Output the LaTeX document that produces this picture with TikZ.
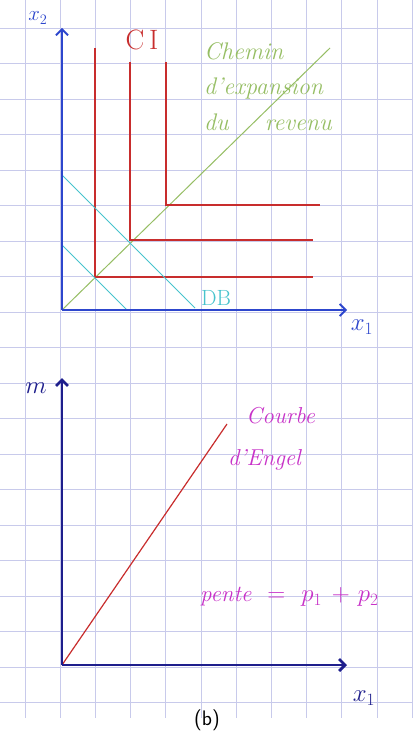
\documentclass[tikz,border=0pt]{standalone}
\usepackage{xcolor}
\usepackage{tikz}
\usetikzlibrary{arrows.meta,positioning,calc}
\definecolor{gridblue}{RGB}{200,202,235}
\definecolor{axisblue}{RGB}{45,70,205}
\definecolor{axisnavy}{RGB}{30,30,140}
\definecolor{ciRed}{RGB}{200,45,45}
\definecolor{pathgreen}{RGB}{150,190,100}
\definecolor{dbcyan}{RGB}{70,195,205}
\definecolor{engelpink}{RGB}{200,50,200}

\begin{document}
\begin{tikzpicture}[x=1pt, y=-1pt,
        axis/.style={-{Straight Barb[length=6pt,width=12pt]}, axisblue, line width=1.8pt},
        axisb/.style={axis, axisnavy, line width=2.8pt},
        ci/.style={ciRed, line width=1.5pt},
        db/.style={dbcyan, line width=1pt},
        hand/.style={font=\fontsize{23}{25}\selectfont\itshape, inner sep=0pt},
        lbl/.style={font=\fontsize{22}{24}\selectfont, inner sep=0pt}]

      \useasboundingbox (0,0) rectangle (413,749);
      \fill[white] (0,0) rectangle (413,749);
      \foreach \i in {0,...,11}
        \draw[gridblue, line width=0.8pt] ({25+35.2*\i},0) -- ({25+35.2*\i},718);
      \foreach \j in {0,...,19}
        \draw[gridblue, line width=0.8pt] (0,{28+35.5*\j}) -- (413,{28+35.5*\j});

      % top graph
      \coordinate (o1) at (62,310);
      \coordinate (yend1) at (62,28);
      \coordinate (xend1) at (347,310);
      \coordinate (e1) at (95,277);
      \coordinate (e2) at (130,240);
      \coordinate (e3) at (166,205);
      \coordinate (pathend) at (330,48);

      \draw[pathgreen, line width=1pt] (o1) -- (pathend);
      \draw[ci] (95,48) -- (e1) -- (313,277);
      \draw[ci] (130,62) -- (e2) -- (313,240);
      \draw[ci] (166,62) -- (e3) -- (320,205);
      \draw[db] (62,245) -- (127,310);
      \draw[db] (62,175) -- (195,308);
      \draw[axis] (o1) -- (yend1);
      \draw[axis] (o1) -- (xend1);

      \node[lbl, axisblue] (x2lbl) at (38,18) {$x_2$};
      \node[lbl, axisblue, font=\fontsize{24}{26}\selectfont] (x1lbl) at (362,327) {$x_1$};
      \node[lbl, ciRed, font=\fontsize{28}{30}\selectfont] (cilbl) at (142,40) {C\,I};
      \node[lbl, dbcyan] (dblbl) at (216,298) {DB};
      \node[hand, pathgreen, anchor=north west, align=left,
            font=\fontsize{24}{35.5}\selectfont\itshape] (cheminlbl) at (204,42)
            {Chemin\\d'expansion\\du\hspace{36pt}revenu};

      % bottom graph
      \coordinate (o2) at (62,665);
      \coordinate (yend2) at (62,378);
      \coordinate (xend2) at (347,665);
      \coordinate (engelend) at (227,424);

      \draw[ciRed, line width=1.2pt] (o2) -- (engelend);
      \draw[axisb] (o2) -- (yend2);
      \draw[axisb] (o2) -- (xend2);

      \node[lbl, axisnavy, font=\fontsize{26}{28}\selectfont] (mlbl) at (36,388) {$m$};
      \node[lbl, axisnavy, font=\fontsize{24}{26}\selectfont] (x1blbl) at (364,698) {$x_1$};
      \node[hand, engelpink, anchor=west] (courbelbl) at (246,416) {Courbe};
      \node[hand, engelpink, anchor=west] (engellbl) at (228,460) {d'Engel};
      \node[hand, engelpink, anchor=west] (pentelbl) at (200,597)
            {pente\hspace{16pt}$=$\hspace{16pt}$p_1$\hspace{10pt}$+$\hspace{8pt}$p_2$};

      \node[font=\sffamily\fontsize{21}{23}\selectfont] (caption) at (207,720) {(b)};
    \end{tikzpicture}
\end{document}
